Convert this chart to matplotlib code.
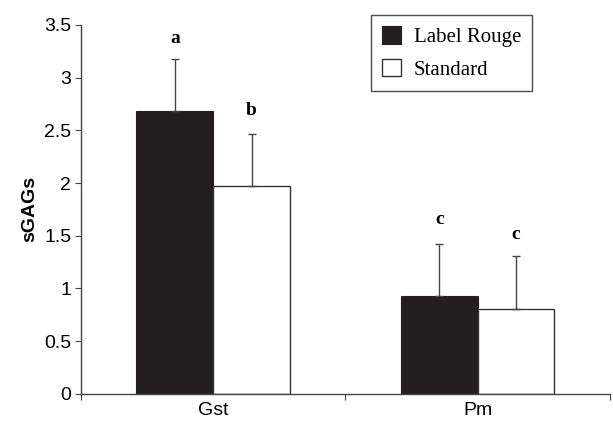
import matplotlib.pyplot as plt
import numpy as np

categories = ['Gst', 'Pm']
label_rouge = [2.68, 0.925]
standard = [1.97, 0.805]
err_rouge = [0.50, 0.50]
err_standard = [0.50, 0.50]
letters_rouge = ['a', 'c']
letters_standard = ['b', 'c']
letter_y_rouge = [3.37, 1.65]
letter_y_standard = [2.69, 1.51]

fig = plt.figure(figsize=(6.13, 4.23), dpi=100)
ax = fig.add_axes([0.132, 0.069, 0.863, 0.872])

x = np.arange(len(categories))
w = 0.29
dark = '#231f20'

ax.bar(x - w/2, label_rouge, w, color=dark, edgecolor=dark, linewidth=0.8, label='Label Rouge', zorder=2)
ax.bar(x + w/2, standard, w, color='white', edgecolor='#333333', linewidth=1.0, label='Standard', zorder=2)

# upper error bars only
ax.errorbar(x - w/2, label_rouge, yerr=[[0, 0], err_rouge], fmt='none', ecolor='#444444',
            elinewidth=1.0, capsize=3, capthick=1.0, zorder=3)
ax.errorbar(x + w/2, standard, yerr=[[0, 0], err_standard], fmt='none', ecolor='#444444',
            elinewidth=1.0, capsize=3, capthick=1.0, zorder=3)

for i in range(len(categories)):
    ax.text(x[i] - w/2, letter_y_rouge[i], letters_rouge[i], ha='center', va='center',
            fontsize=14, fontweight='bold', family='Liberation Serif')
    ax.text(x[i] + w/2, letter_y_standard[i], letters_standard[i], ha='center', va='center',
            fontsize=14, fontweight='bold', family='Liberation Serif')

ax.set_xlim(-0.5, 1.5)
ax.set_ylim(0, 3.5)
ax.set_yticks([0, 0.5, 1, 1.5, 2, 2.5, 3, 3.5])
ax.set_yticklabels(['0', '0.5', '1', '1.5', '2', '2.5', '3', '3.5'], family='Liberation Sans', fontsize=14)
ax.set_xticks([-0.5, 0.5, 1.5])
ax.set_xticklabels([])
ax.set_xticks(x, minor=True)
ax.set_xticklabels(categories, minor=True, family='Liberation Sans', fontsize=14)
ax.tick_params(axis='x', which='minor', length=0, pad=6)
ax.tick_params(axis='x', which='major', length=4, direction='out', color='#444444')
ax.tick_params(axis='y', length=4, direction='out', color='#444444', pad=3)

for s in ['top', 'right']:
    ax.spines[s].set_visible(False)
for s in ['left', 'bottom']:
    ax.spines[s].set_color('#444444')
    ax.spines[s].set_linewidth(1.0)

ax.set_ylabel('sGAGs', family='Liberation Sans', fontweight='bold', fontsize=14, labelpad=4)

leg = ax.legend(loc='upper left', bbox_to_anchor=(0.548, 1.027), frameon=True, fancybox=False,
                edgecolor='#222222', prop={'family': 'Liberation Serif', 'size': 15},
                handlelength=0.9, handleheight=0.9, handletextpad=0.6, borderpad=0.55,
                labelspacing=0.55, borderaxespad=0)
leg.get_frame().set_linewidth(1.0)

fig.savefig('out.png', dpi=100)
